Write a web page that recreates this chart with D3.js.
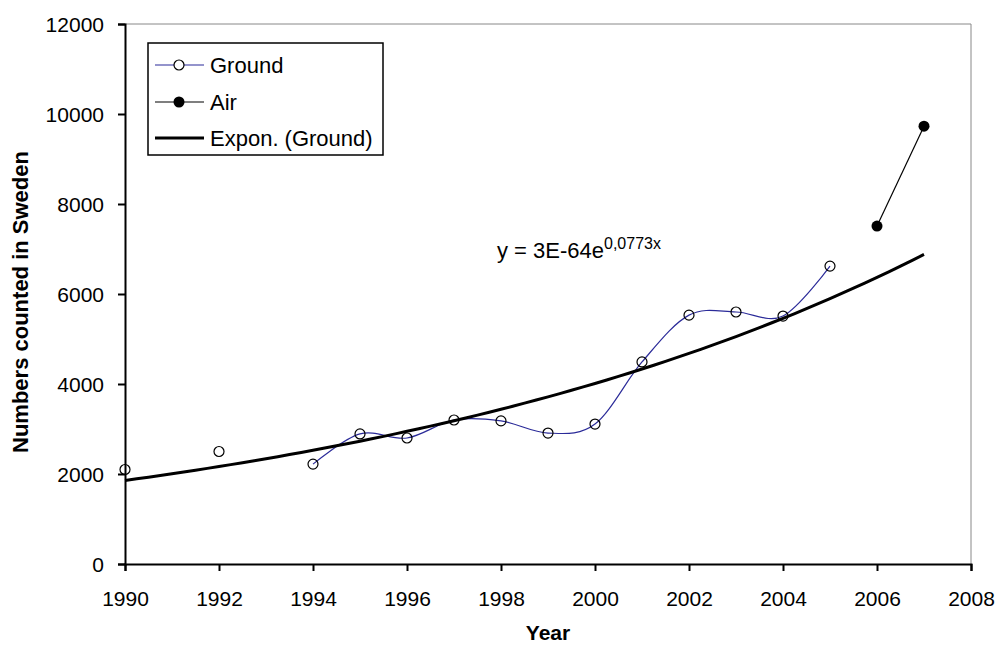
<!DOCTYPE html>
<html>
<head>
<meta charset="utf-8">
<script src="https://cdn.jsdelivr.net/npm/d3@7"></script>
<style>
  body { margin: 0; background: #fff; }
  text { font-family: "Liberation Sans", Arial, sans-serif; fill: #000; }
</style>
</head>
<body>
<div id="chart-area"></div>
<script>
// values
const groundYears = [1990, 1991, 1992, 1993, 1994, 1995, 1996, 1997, 1998, 1999, 2000, 2001, 2002, 2003, 2004, 2005];
const groundCounts = [2100, null, 2500, null, 2220, 2890, 2800, 3200, 3180, 2910, 3110, 4490, 5530, 5600, 5510, 6620];
const airYears = [2006, 2007];
const airCounts = [7510, 9730];
const xTicks = [1990, 1992, 1994, 1996, 1998, 2000, 2002, 2004, 2006, 2008];
const yTicks = [0, 2000, 4000, 6000, 8000, 10000, 12000];
const legendNames = ['Ground', 'Air', 'Expon. (Ground)'];

const ground = groundYears.map((yr, i) => ({ yr, v: groundCounts[i] }));
const air = airYears.map((yr, i) => ({ yr, v: airCounts[i] }));

const svg = d3.select('#chart-area').append('svg')
  .attr('width', 995)
  .attr('height', 648);

const x = d3.scaleLinear().domain([1990, 2008]).range([125, 971]);
const y = d3.scaleLinear().domain([0, 12000]).range([564, 24]);

// plot area border (grey top / right)
svg.append('path')
  .attr('d', `M${x(1990)},${y(12000)}H${x(2008)}V${y(0)}`)
  .attr('fill', 'none')
  .attr('stroke', '#888')
  .attr('stroke-width', 1);

// axes
const yAxis = svg.append('g')
  .attr('transform', `translate(${x(1990)},0)`)
  .call(d3.axisLeft(y).tickValues(yTicks).tickSize(7).tickPadding(14).tickFormat(d3.format('d')));
const xAxis = svg.append('g')
  .attr('transform', `translate(0,${y(0)})`)
  .call(d3.axisBottom(x).tickValues(xTicks).tickSize(7).tickPadding(20).tickFormat(d3.format('d')));

[yAxis, xAxis].forEach(g => {
  g.select('.domain').attr('stroke', '#000').attr('stroke-width', 2);
  g.selectAll('.tick line').attr('stroke', '#000').attr('stroke-width', 2);
  g.selectAll('.tick text').attr('font-size', 21).attr('font-family', '"Liberation Sans", Arial, sans-serif');
});
yAxis.selectAll('.tick text').attr('dy', '0.36em');

// exponential trend fit of the ground counts
const pts = ground.filter(d => d.v != null);
const mx = d3.mean(pts, d => d.yr);
const my = d3.mean(pts, d => Math.log(d.v));
const slope = d3.sum(pts, d => (d.yr - mx) * (Math.log(d.v) - my)) / d3.sum(pts, d => (d.yr - mx) ** 2);
const trend = d3.range(1990, 2007.01, 0.25).map(yr => ({ yr, v: Math.exp(my + slope * (yr - mx)) }));

const line = d3.line()
  .defined(d => d.v != null)
  .x(d => x(d.yr))
  .y(d => y(d.v));

svg.append('path')
  .datum(ground)
  .attr('d', line.curve(d3.curveCardinal.tension(0)))
  .attr('fill', 'none')
  .attr('stroke', '#2b2b99')
  .attr('stroke-width', 1.2);

svg.append('path')
  .datum(air)
  .attr('d', line.curve(d3.curveLinear))
  .attr('fill', 'none')
  .attr('stroke', '#000')
  .attr('stroke-width', 1.2);

svg.selectAll('.ground-dot')
  .data(pts)
  .enter().append('circle')
    .attr('class', 'ground-dot')
    .attr('cx', d => x(d.yr))
    .attr('cy', d => y(d.v))
    .attr('r', 5)
    .attr('fill', 'none')
    .attr('stroke', '#000')
    .attr('stroke-width', 1.2);

svg.selectAll('.air-dot')
  .data(air)
  .enter().append('circle')
    .attr('class', 'air-dot')
    .attr('cx', d => x(d.yr))
    .attr('cy', d => y(d.v))
    .attr('r', 5.5)
    .attr('fill', '#000');

svg.append('path')
  .datum(trend)
  .attr('d', line.curve(d3.curveLinear))
  .attr('fill', 'none')
  .attr('stroke', '#000')
  .attr('stroke-width', 3);

// equation label
const eq = svg.append('text')
  .attr('x', 497)
  .attr('y', 258)
  .attr('font-size', 22);
eq.append('tspan').text('y = 3E-64e');
eq.append('tspan').attr('font-size', 16).attr('dy', -9).text('0,0773x');

// axis titles
svg.append('text')
  .attr('x', x(1999))
  .attr('y', 640)
  .attr('text-anchor', 'middle')
  .attr('font-size', 21)
  .attr('font-weight', 'bold')
  .text('Year');

svg.append('text')
  .attr('transform', `translate(28,302) rotate(-90)`)
  .attr('text-anchor', 'middle')
  .attr('font-size', 22)
  .attr('font-weight', 'bold')
  .text('Numbers counted in Sweden');

// legend
const legend = svg.append('g');
legend.append('rect')
  .attr('x', 148).attr('y', 43)
  .attr('width', 235).attr('height', 112)
  .attr('fill', '#fff')
  .attr('stroke', '#000')
  .attr('stroke-width', 1.5);

const rowY = [65, 102, 138];
legendNames.forEach((name, i) => {
  const g = legend.append('g').attr('transform', `translate(0,${rowY[i]})`);
  g.append('line')
    .attr('x1', 155).attr('x2', 204)
    .attr('stroke', i === 0 ? '#2b2b99' : '#000')
    .attr('stroke-width', i === 2 ? 3 : 1.2);
  if (i === 0) {
    g.append('circle').attr('cx', 179).attr('r', 5).attr('fill', '#fff').attr('stroke', '#000').attr('stroke-width', 1.2);
  } else if (i === 1) {
    g.append('circle').attr('cx', 179).attr('r', 5.5).attr('fill', '#000');
  }
  g.append('text')
    .attr('x', 210)
    .attr('y', 8)
    .attr('font-size', 22)
    .text(name);
});
</script>
</body>
</html>
